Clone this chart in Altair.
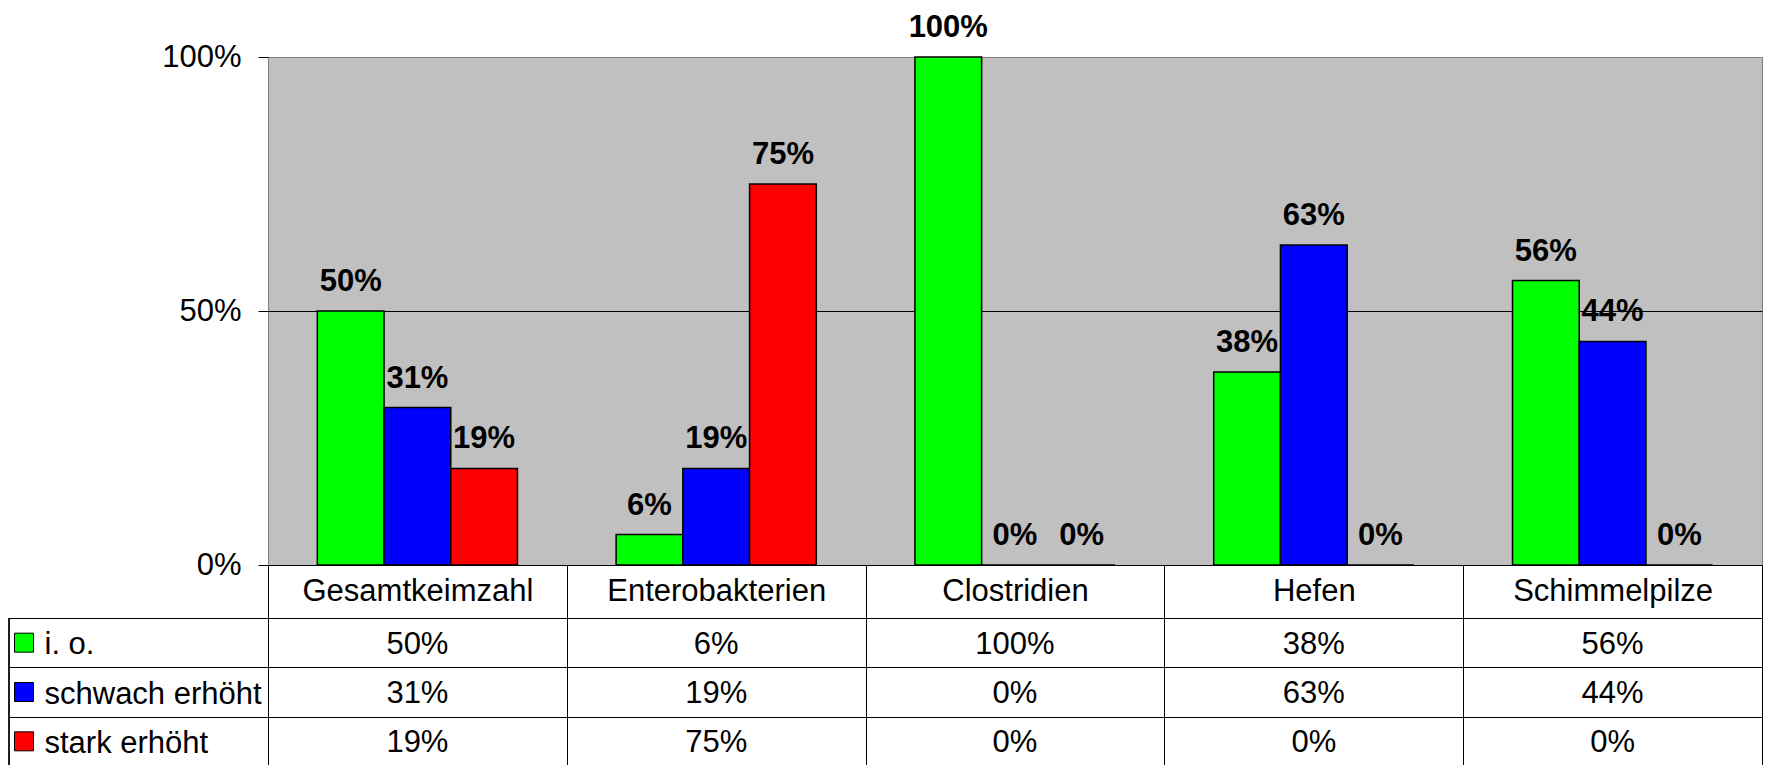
import altair as alt
import pandas as pd

# ---- data ----
categories = ["Gesamtkeimzahl", "Enterobakterien", "Clostridien", "Hefen", "Schimmelpilze"]
series = ["i. o.", "schwach erhöht", "stark erhöht"]
io_values = [50, 6, 100, 38, 56]
schwach_values = [31, 19, 0, 63, 44]
stark_values = [19, 75, 0, 0, 0]
series_colors = ["#00FF00", "#0000FF", "#FF0000"]
y_ticks = [0, 50, 100]

rows = []
for s, vals in zip(series, [io_values, schwach_values, stark_values]):
    for c, v in zip(categories, vals):
        rows.append({"Kategorie": c, "Serie": s, "Wert": v, "Label": f"{v}%"})
df = pd.DataFrame(rows)
legend_df = pd.DataFrame({"Serie": series})

# ---- layout / style ----
FONT = "Liberation Sans"
FS = 31
PLOT_W = 1494
PLOT_H = 508
LEG_W = 259
HEADER_H = 53
TABLE_H = 148

color_scale = alt.Scale(domain=series, range=series_colors)

# ---- bar chart ----
x_bar = alt.X(
    "Kategorie:N", sort=categories,
    scale=alt.Scale(paddingInner=0, paddingOuter=0),
    axis=alt.Axis(
        title=None, tickBand="extent", tickSize=HEADER_H, tickColor="black", tickWidth=1,
        domainColor="black", domainWidth=1, labelFont=FONT, labelFontSize=FS,
        labelColor="black", labelPadding=-26.5, labelBaseline="middle", labelAngle=0,
        labelOverlap=False, labelLimit=0, grid=False,
    ),
)
xoff_bar = alt.XOffset("Serie:N", sort=series, scale=alt.Scale(paddingInner=0, paddingOuter=0.739))
y_bar = alt.Y(
    "Wert:Q",
    scale=alt.Scale(domain=[0, 100], nice=False),
    axis=alt.Axis(
        title=None, values=y_ticks, labelExpr="datum.value + '%'", tickSize=10,
        tickColor="black", tickWidth=1, labelPadding=17, labelFont=FONT, labelFontSize=FS,
        labelColor="black", labelBaseline="middle", domain=False, grid=True, gridWidth=1,
        gridColor=alt.condition("datum.value === 100", alt.value("#808080"), alt.value("black")),
    ),
)

base = alt.Chart(df).encode(x=x_bar, xOffset=xoff_bar, y=y_bar)
bars = base.mark_bar(stroke="black", strokeWidth=1.5).encode(
    color=alt.Color("Serie:N", scale=color_scale, legend=None)
)
bar_labels = base.mark_text(
    font=FONT, fontSize=FS, fontWeight="bold", color="black",
    baseline="alphabetic", dy=-20,
).encode(text="Label:N")

bar_chart = alt.layer(bars, bar_labels).properties(
    width=PLOT_W, height=PLOT_H,
    view=alt.ViewBackground(fill="#C0C0C0", stroke="#808080", strokeWidth=1),
)

# ---- data table (legend column drawn in the row axis area) ----
x_cols = alt.X(
    "Kategorie:N", sort=categories,
    scale=alt.Scale(type="band", paddingInner=0, paddingOuter=0),
    axis=alt.Axis(title=None, labels=False, ticks=False, domain=False, grid=True,
                  gridColor="black", gridWidth=1, tickBand="extent"),
)
y_rows = alt.Y(
    "Serie:N", sort=series,
    scale=alt.Scale(type="band", paddingInner=0, paddingOuter=0),
    axis=alt.Axis(
        title=None, domain=False, grid=True, gridColor="black", gridWidth=1,
        tickBand="extent", ticks=True, tickSize=LEG_W, tickColor="black", tickWidth=1,
        labels=True, labelAlign="left", labelBaseline="middle", labelPadding=-35,
        labelFont=FONT, labelFontSize=FS, labelColor="black", labelLimit=0,
        labelOffset=2,
    ),
)

cells = alt.Chart(df).mark_text(
    font=FONT, fontSize=FS, color="black", baseline="middle", dy=2
).encode(x=x_cols, y=y_rows, text="Label:N")

legend_keys = alt.Chart(legend_df).mark_point(
    shape="square", filled=True, size=361, stroke="black", strokeWidth=1, opacity=1
).encode(
    x=alt.value(-(LEG_W - 15)),
    y=y_rows,
    color=alt.Color("Serie:N", scale=color_scale, legend=None),
)

left_border = alt.Chart(legend_df).mark_rule(color="black", strokeWidth=1).encode(
    x=alt.value(-LEG_W), y=alt.value(0), y2=alt.value(TABLE_H)
)

table_chart = alt.layer(cells, legend_keys, left_border).properties(
    width=PLOT_W, height=TABLE_H,
    view=alt.ViewBackground(fill="white", stroke="black", strokeWidth=1),
)

chart = alt.vconcat(
    bar_chart, table_chart, spacing=HEADER_H, bounds="flush"
).properties(
    padding={"top": 3, "left": 0, "right": 0, "bottom": 0}
).configure(font=FONT)

chart.save("out.html", embed_options={"renderer": "svg", "actions": False})
